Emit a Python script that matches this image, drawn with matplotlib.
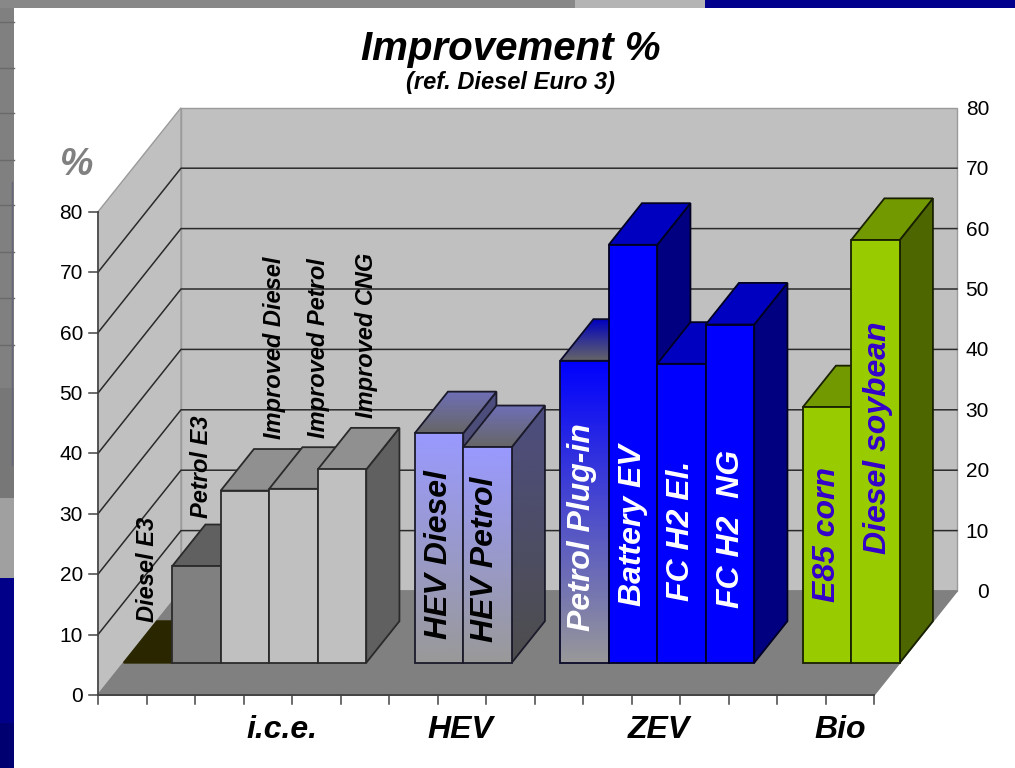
import matplotlib
matplotlib.use("Agg")
import matplotlib.pyplot as plt
import numpy as np
from matplotlib.patches import Polygon, Rectangle

plt.rcParams['font.family'] = ['Liberation Sans', 'DejaVu Sans']

# -----------------------------
# Data
# -----------------------------
bar_names = ["Diesel E3", "Petrol E3", "Improved Diesel", "Improved Petrol", "Improved CNG",
             "HEV Diesel", "HEV Petrol", "Petrol Plug-in", "Battery EV", "FC H2 El.", "FC H2  NG",
             "E85 corn", "Diesel soybean"]
bar_slots = [0, 1, 2, 3, 4, 6, 7, 9, 10, 11, 12, 14, 15]
bar_values = [0, 16, 28.5, 28.8, 32, 38, 35.7, 50, 69.2, 49.5, 56, 42.3, 70]
group_names = ["i.c.e.", "HEV", "ZEV", "Bio"]
value_ticks = [0, 10, 20, 30, 40, 50, 60, 70, 80]

# -----------------------------
# Layout: 3D look projected on a flat axes
# -----------------------------
W, H = 1015, 768
n_slots = 16
x0, y0 = 98, 695       # front left corner of the floor, pixels
slot_px = 48.5
unit_px = 6.04
depth_x, depth_y = 83, 104
bar_d0, bar_d1 = 0.31, 0.71


def proj(slot, value, depth=0):
    return slot + depth * depth_x / slot_px, value + depth * depth_y / unit_px


# front, top, side colours (gradient faces give top and bottom colour)
flat = {
    "dark": ("#2a2600", "#2a2600", "#2a2600"),
    "mid": ("#808080", "#606060", "#404040"),
    "light": ("#c0c0c0", "#909090", "#606060"),
    "blue": ("#0000ff", "#0000c0", "#000080"),
    "green": ("#99cc00", "#739900", "#4d6600"),
}
hev_grad = (("#9999ff", "#999999"), ("#6f6fb8", "#666666"), ("#4d4d80", "#4d4d4d"))
plug_grad = (("#0000ff", "#999999"), ("#0000c0", "#666666"), ("#000080", "#4d4d4d"))
bar_styles = ["dark", "mid", "light", "light", "light", hev_grad, hev_grad, plug_grad,
              "blue", "blue", "blue", "green", "green"]
edge_colors = ["#222200", "#2a2a2a", "#2a2a2a", "#2a2a2a", "#2a2a2a", "#1a1a2a", "#1a1a2a",
               "#0a0a2a", "#000022", "#000022", "#000022", "#182000", "#182000"]

# text placement in pixels: centre x, centre y, size, colour
label_place = [
    (148, 569, 17, "black"), (202, 467, 17, "black"), (274, 348, 17, "black"),
    (318, 348, 17, "black"), (367, 335, 17, "black"),
    (439, 555, 23, "black"), (485, 559, 23, "black"), (582, 527, 23, "white"),
    (633, 525, 23, "white"), (681, 531, 23, "white"), (731, 529, 23, "white"),
    (827, 535, 23, "#3300cc"), (878, 438, 23, "#3300cc"),
]
group_x = [282, 460, 659, 840]

fig = plt.figure(figsize=(W / 100, H / 100), dpi=100)

# -----------------------------
# Slide behind the chart
# -----------------------------
bg = fig.add_axes([0, 0, 1, 1])
bg.set_xlim(0, W)
bg.set_ylim(H, 0)
bg.axis("off")
bg.add_patch(Rectangle((0, 0), W, H, color="#808080", lw=0))
bg.add_patch(Rectangle((0, 0), 575, 8, color="#888888", lw=0))
bg.add_patch(Rectangle((575, 0), 130, 8, color="#b4b4b4", lw=0))
bg.add_patch(Rectangle((705, 0), 310, 8, color="#00008c", lw=0))
for yy in [22, 68, 113, 160, 205, 252, 298, 345]:
    bg.plot([0, 14], [yy, yy], color="#6a6a6a", lw=1)
bg.plot([12, 12], [182, 465], color="#66667a", lw=1)
bg.add_patch(Rectangle((0, 388), 14, 110, color="#777777", lw=0))
bg.add_patch(Rectangle((0, 498), 14, 80, color="#a0a0a0", lw=0))
bg.add_patch(Rectangle((0, 578), 14, 145, color="#000088", lw=0))
bg.add_patch(Rectangle((0, 723), 14, 45, color="#000070", lw=0))
bg.add_patch(Rectangle((14, 8), W - 14, H - 8, color="white", lw=0))

# -----------------------------
# Chart axes: x in slots, y in percent
# -----------------------------
ax = fig.add_axes([0, 0, 1, 1])
ax.patch.set_alpha(0)
ax.axis("off")
xlim = (-x0 / slot_px, (W - x0) / slot_px)
ylim = ((y0 - H) / unit_px, y0 / unit_px)
zo = [3]


def face(points, color, edge=None, lw=1.3):
    zo[0] += 1
    ax.add_patch(Polygon(points, closed=True, facecolor=color, edgecolor=edge or color,
                         lw=lw, zorder=zo[0], joinstyle="miter"))


def grad_face(points, colors, edge, lw=1.3):
    # vertical gradient clipped to the face
    zo[0] += 1
    pts = np.array(points)
    top = np.array(matplotlib.colors.to_rgb(colors[0]))
    bot = np.array(matplotlib.colors.to_rgb(colors[1]))
    t = np.linspace(0, 1, 256)[:, None, None]
    img = top[None, None, :] * (1 - t) + bot[None, None, :] * t
    im = ax.imshow(img, aspect="auto", origin="upper", zorder=zo[0], interpolation="bilinear",
                   extent=(pts[:, 0].min(), pts[:, 0].max(), pts[:, 1].min(), pts[:, 1].max()))
    clip = Polygon(points, closed=True, transform=ax.transData, facecolor="none", edgecolor="none")
    ax.add_patch(clip)
    im.set_clip_path(clip)
    zo[0] += 1
    ax.add_patch(Polygon(points, closed=True, facecolor="none", edgecolor=edge, lw=lw,
                         zorder=zo[0], joinstyle="miter"))


vmax = value_ticks[-1]
# walls and floor
face([proj(0, 0, 1), proj(n_slots, 0, 1), proj(n_slots, vmax, 1), proj(0, vmax, 1)], "#c0c0c0", "#9a9a9a", 1)
face([proj(0, 0, 0), proj(0, 0, 1), proj(0, vmax, 1), proj(0, vmax, 0)], "#c0c0c0", "#9a9a9a", 1)
face([proj(0, 0, 0), proj(n_slots, 0, 0), proj(n_slots, 0, 1), proj(0, 0, 1)], "#808080")

zo[0] += 1
for v in value_ticks[1:-1]:
    xs, ys = zip(proj(0, v, 0), proj(0, v, 1), proj(n_slots, v, 1))
    ax.plot(xs, ys, color="#2a2a2a", lw=1.1, zorder=zo[0])

# axis lines and ticks on the front plane
ax.plot([0, 0], [0, vmax], color="#444444", lw=1.2, zorder=200)
ax.plot([0, n_slots], [0, 0], color="#444444", lw=1.4, zorder=200)
for s in range(n_slots + 1):
    ax.plot([s, s], [0, -9 / unit_px], color="#444444", lw=1.1, zorder=200)
for v in value_ticks:
    ax.plot([-9 / slot_px, 0], [v, v], color="#444444", lw=1.1, zorder=200)
    ax.text(-15 / slot_px, v - 1.5 / unit_px, str(v), ha="right", va="center", fontsize=15,
            color="black", zorder=201)
    bx, by = proj(n_slots, v, 1)
    ax.text(bx + 32 / slot_px, by - 1.5 / unit_px, str(v), ha="right", va="center", fontsize=15,
            color="black", zorder=201)

# bars, left to right so each one covers the side of the previous
for slot, val, style, ec in zip(bar_slots, bar_values, bar_styles, edge_colors):
    x1, x2 = slot, slot + 1
    front = [proj(x1, 0, bar_d0), proj(x2, 0, bar_d0), proj(x2, val, bar_d0), proj(x1, val, bar_d0)]
    top = [proj(x1, val, bar_d0), proj(x2, val, bar_d0), proj(x2, val, bar_d1), proj(x1, val, bar_d1)]
    side = [proj(x2, 0, bar_d0), proj(x2, 0, bar_d1), proj(x2, val, bar_d1), proj(x2, val, bar_d0)]
    if val == 0:
        face(top, flat[style][0], flat[style][0])
    elif isinstance(style, str):
        c_front, c_top, c_side = flat[style]
        face(side, c_side, ec)
        face(top, c_top, ec)
        face(front, c_front, ec)
    else:
        grad_face(side, style[2], ec)
        grad_face(top, style[1], ec)
        grad_face(front, style[0], ec)

ax.set_xlim(*xlim)
ax.set_ylim(*ylim)

# -----------------------------
# Texts
# -----------------------------
for name, (px, py, size, col) in zip(bar_names, label_place):
    fig.text(px / W, 1 - py / H, name, rotation=90, ha="center", va="center",
             fontsize=size, style="italic", fontweight="bold", color=col, zorder=300)

for name, px in zip(group_names, group_x):
    fig.text(px / W, 1 - 730 / H, name, ha="center", va="center", fontsize=23,
             style="italic", fontweight="bold", color="black")

fig.text(511 / W, 1 - 49 / H, "Improvement %", ha="center", va="center", fontsize=29,
         style="italic", fontweight="bold", color="black")
fig.text(511 / W, 1 - 82 / H, "(ref. Diesel Euro 3)", ha="center", va="center", fontsize=17,
         style="italic", fontweight="bold", color="black")
fig.text(77 / W, 1 - 165 / H, "%", ha="center", va="center", fontsize=27,
         style="italic", fontweight="bold", color="#808080")

fig.savefig("out.png", dpi=100)
